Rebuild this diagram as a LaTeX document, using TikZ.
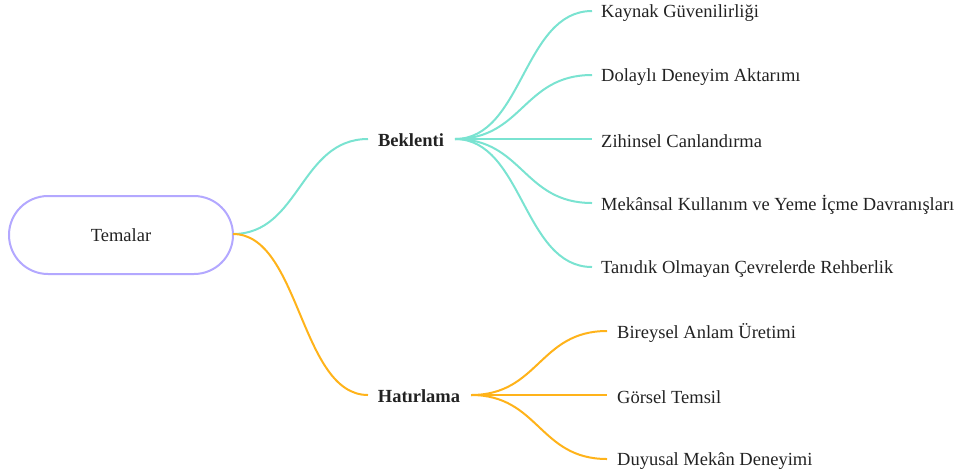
\documentclass[tikz,border=0pt]{standalone}
\usepackage{fontspec}
\setmainfont{Liberation Serif}
\definecolor{rootc}{HTML}{B3A8FF}
\definecolor{tealc}{HTML}{7AE3D1}
\definecolor{orangec}{HTML}{FFB31A}
\definecolor{txt}{HTML}{222222}
\begin{document}
\begin{tikzpicture}[x=1pt,y=-1pt,
  every node/.style={font=\fontsize{18.5}{22}\selectfont, text=txt},
  rootbox/.style={draw=rootc, line width=2pt, rounded corners=39pt, minimum width=224pt, minimum height=78pt, fill=white},
  branch/.style={font=\fontsize{18.5}{22}\selectfont\bfseries, inner sep=0pt},
  leaf/.style={anchor=west, inner sep=0pt},
  tedge/.style={draw=tealc, line width=2pt},
  oedge/.style={draw=orangec, line width=2pt}]
\useasboundingbox (0,0) rectangle (960,475);
\node[rootbox] (root) at (121,235) {Temalar};
\coordinate (rootout) at (233,234);
\node[branch] (bek) at (411,140) {Beklenti};
\node[branch] (hat) at (419,396) {Hatırlama};
\coordinate (bekin) at (368,139);
\coordinate (bekout) at (455,139);
\coordinate (hatin) at (368,395);
\coordinate (hatout) at (471,395);
\node[leaf] (l1) at (601,13) {Kaynak Güvenilirliği};
\node[leaf] (l2) at (601,77) {Dolaylı Deneyim Aktarımı};
\node[leaf] (l3) at (601,141) {Zihinsel Canlandırma};
\node[leaf] (l4) at (601,205) {Mekânsal Kullanım ve Yeme İçme Davranışları};
\node[leaf] (l5) at (601,269) {Tanıdık Olmayan Çevrelerde Rehberlik};
\node[leaf] (m1) at (617,333) {Bireysel Anlam Üretimi};
\node[leaf] (m2) at (617,397) {Görsel Temsil};
\node[leaf] (m3) at (617,461) {Duyusal Mekân Deneyimi};
\draw[tedge] (rootout) .. controls (300,234) and (300,139) .. (bekin);
\draw[oedge] (rootout) .. controls (300,234) and (300,395) .. (hatin);
\foreach \n in {l1,l2,l3,l4,l5}{
  \draw[tedge] (bekout) .. controls (523,139) and ([yshift=2pt]523,0|-\n.west) .. ([xshift=-9pt,yshift=2pt]\n.west);
}
\foreach \n in {m1,m2,m3}{
  \draw[oedge] (hatout) .. controls (539,395) and ([yshift=2pt]539,0|-\n.west) .. ([xshift=-10pt,yshift=2pt]\n.west);
}
\end{tikzpicture}
\end{document}
